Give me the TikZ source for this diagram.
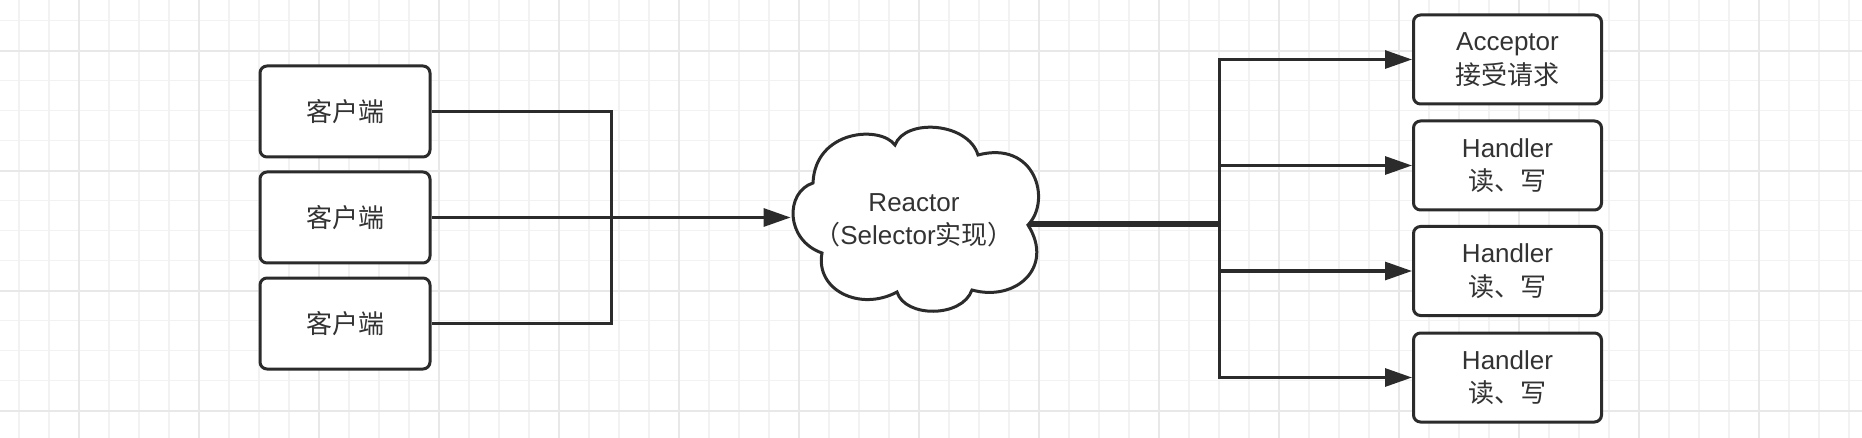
\documentclass[tikz,border=0pt]{standalone}
\usepackage{fontspec}
\setmainfont{Liberation Sans}
\newfontfamily\cjk{Noto Sans CJK SC}
\usetikzlibrary{arrows.meta}
\definecolor{ink}{HTML}{2B2B2B}
\definecolor{txt}{HTML}{333333}
\definecolor{gmin}{HTML}{F2F2F2}
\definecolor{gmaj}{HTML}{E8E8E8}
\pgfdeclarelayer{bg}
\pgfsetlayers{bg,main}
\tikzset{
  box/.style={draw=ink, line width=1.5pt, rounded corners=3.5pt, fill=white,
    text=txt, font=\fontsize{13}{16.8}\selectfont, align=center, inner sep=0pt},
  lbox/.style={box, minimum width=85pt, minimum height=45.5pt},
  rbox/.style={box, minimum width=94pt, minimum height=44.5pt},
  conn/.style={draw=ink, line width=1.5pt},
  arr/.style={conn, -{Triangle[length=13.5pt,width=9pt]}},
  minorline/.style={draw=gmin, line width=0.75pt},
  majorline/.style={draw=gmaj, line width=0.9pt},
  cloudtext/.style={text=txt, font=\fontsize{13}{16.5}\selectfont, align=center, inner sep=0pt},
}
\begin{document}
\begin{tikzpicture}[x=0.5pt,y=-0.5pt]
\useasboundingbox (0,0) rectangle (1862,438);
\begin{pgfonlayer}{bg}
\fill[white] (0,0) rectangle (1862,438);
\foreach \x in {19,49,...,1849} \draw[minorline] (\x,0) -- (\x,438);
\foreach \y in {20.7,50.7,...,411} \draw[minorline] (0,\y) -- (1862,\y);
\foreach \x in {79,199,...,1759} \draw[majorline] (\x,0) -- (\x,438);
\foreach \y in {50.7,170.7,...,411} \draw[majorline] (0,\y) -- (1862,\y);
\end{pgfonlayer}

% client boxes
\node[lbox] (c1) at (345,111.5) {\cjk 客户端};
\node[lbox] (c2) at (345,217.5) {\cjk 客户端};
\node[lbox] (c3) at (345,323.5) {\cjk 客户端};

% handler boxes
\node[rbox] (r1) at (1507.5,59.5) {Acceptor\\{\cjk 接受请求}};
\node[rbox] (r2) at (1507.5,165.5) {Handler\\{\cjk 读、写}};
\node[rbox] (r3) at (1507.5,271) {Handler\\{\cjk 读、写}};
\node[rbox] (r4) at (1507.5,377.5) {Handler\\{\cjk 读、写}};

% cloud
\draw[conn, fill=white] (813,183)
  .. controls (785,192) and (785,240) .. (822,253)
  .. controls (815,290) and (860,312) .. (897,292)
  .. controls (905,318) and (962,318) .. (972,290)
  .. controls (1015,302) and (1055,268) .. (1028,225)
  .. controls (1052,200) and (1035,140) .. (978,155)
  .. controls (968,122) and (905,118) .. (895,145)
  .. controls (880,125) and (815,130) .. (813,183) -- cycle;
\node[cloudtext, minimum width=123pt, minimum height=90pt] (reactor) at (914,220)
  {Reactor\\{\cjk （}Selector{\cjk 实现）}};

\coordinate (jl) at (611,217.5);
\coordinate (jr) at (1219,224);

\begin{pgfonlayer}{bg}
\draw[conn] (c1.east) -| (jl);
\draw[conn] (c3.east) -| (jl);
\draw[arr] (c2.east) -- (c2.east -| reactor.west);
\draw[conn, line width=3pt] (reactor.center |- jr) -- (jr);
\foreach \n in {r1,r2,r3,r4} \draw[arr] (jr) |- (\n.west);
\end{pgfonlayer}
\end{tikzpicture}
\end{document}
